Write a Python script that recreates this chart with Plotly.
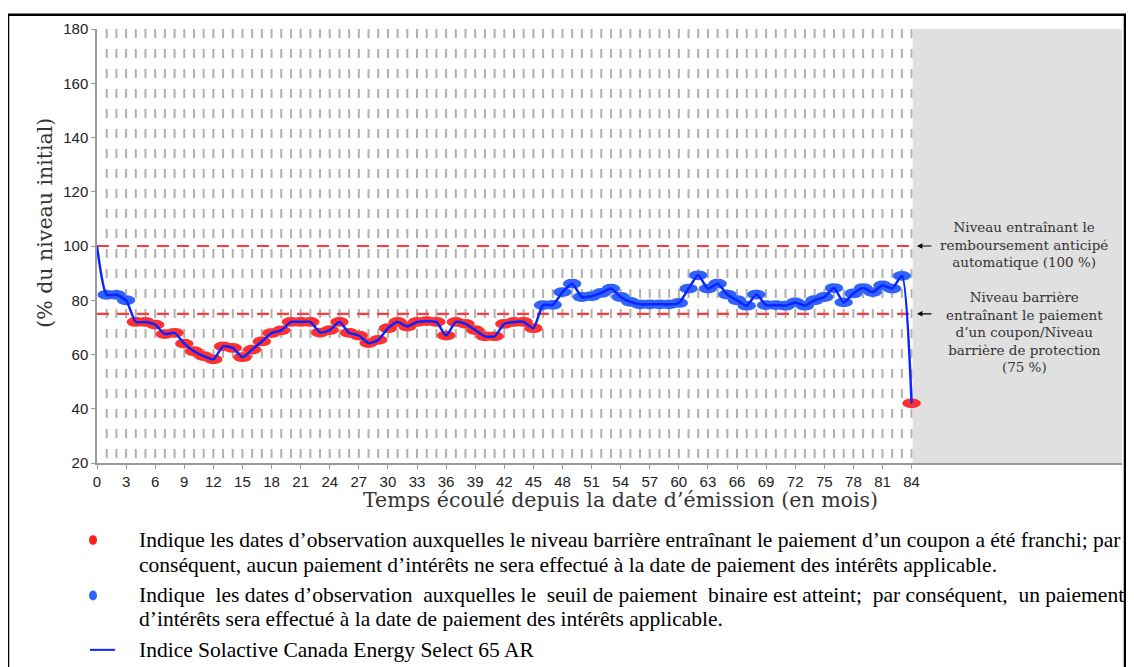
import plotly.graph_objects as go

# ---------------- data ----------------
months = list(range(85))
index_level = [100, 82, 82, 80, 72, 72, 71, 67.5, 68, 64, 61.2, 59.4, 58.2, 63, 62.4, 59,
               61.8, 64.8, 67.9, 68.9, 72, 72, 72, 68.1, 69, 72, 68, 67, 64.2, 65.4, 69.7,
               72, 70.3, 72, 72.3, 72, 67, 72, 71.3, 69, 66.7, 66.7, 71.3, 72, 72, 69.7,
               78.2, 78.3, 83, 86.1, 81.2, 81.5, 82.7, 84.3, 81.2, 79.4, 78.5, 78.5, 78.5,
               78.5, 79, 84.3, 89.2, 84.3, 86.1, 82.1, 80, 78, 82.1, 78.2, 78.2, 78, 79.2,
               78, 80, 81.2, 84.5, 79.2, 82.5, 84.5, 83, 85.5, 84.3, 89, 42]
x_ticks = list(range(0, 85, 3))
y_ticks = list(range(20, 181, 20))
autocall_level = 100
barrier_level = 75
maturity = 84
x_max = 105.7

RED = "#ff3030"
BLUE_M = "#2f62ff"
BLUE_L = "#0a24ff"

# page offset (body margin) and plot area in screen pixels
OFF = 8
L, R, T, B = 97, 1122, 24, 463
W, H = 1134 - OFF, 667 - OFF


def px(xp):
    return (xp - L) / (R - L)


def py(yp):
    return (B - yp) / (B - T)


fig = go.Figure()

fig.add_trace(go.Scatter(
    x=months, y=index_level, mode="lines",
    line=dict(color=BLUE_L, width=2.5, shape="spline", smoothing=0.6),
    showlegend=False, hoverinfo="x+y"))

shapes = []
# monthly dashed grid lines up to maturity
for m in months[1:]:
    shapes.append(dict(type="line", xref="x", yref="paper", x0=m, x1=m, y0=1, y1=0,
                       line=dict(color="#b0b0b0", width=2, dash="9px,11px"), layer="below"))
shapes.append(dict(type="rect", xref="x", yref="paper", x0=maturity + 0.12, x1=x_max,
                   y0=0, y1=1, fillcolor="#e0e0e0", line=dict(width=0), layer="below"))
for lvl in (autocall_level, barrier_level):
    shapes.append(dict(type="line", xref="x", yref="y", x0=0, x1=maturity, y0=lvl, y1=lvl,
                       line=dict(color="#ff3b3b", width=2.2, dash="12px,8px"), layer="below"))
hw, hh = 0.95, 1.8
for m, v in zip(months[1:], index_level[1:]):
    c = RED if v < barrier_level else BLUE_M
    shapes.append(dict(type="circle", xref="x", yref="y", x0=m - hw, x1=m + hw,
                       y0=v - hh, y1=v + hh, fillcolor=c, line=dict(width=0), layer="below"))

# outer frame
shapes.append(dict(type="rect", xref="paper", yref="paper", x0=px(8), x1=px(1125),
                   y0=py(720), y1=py(9.5), line=dict(color="black", width=2.5)))

# legend symbols
shapes.append(dict(type="circle", xref="paper", yref="paper", x0=px(89), x1=px(97),
                   y0=py(546), y1=py(536), fillcolor="#ff2020", line=dict(width=0)))
shapes.append(dict(type="circle", xref="paper", yref="paper", x0=px(89), x1=px(97),
                   y0=py(602), y1=py(592), fillcolor="#2f62ff", line=dict(width=0)))
shapes.append(dict(type="line", xref="paper", yref="paper", x0=px(90), x1=px(115),
                   y0=py(652), y1=py(652), line=dict(color="#0a24ff", width=2)))

annotations = []
serif = "DejaVu Serif"
annotations.append(dict(xref="paper", yref="paper", x=px(1024), y=py(242), showarrow=False,
                        text="Niveau entraînant le<br>remboursement anticipé<br>automatique (100 %)",
                        font=dict(family=serif, size=13.5, color="#333"), align="center",
                        xanchor="center", yanchor="middle"))
annotations.append(dict(xref="paper", yref="paper", x=px(1024), y=py(330), showarrow=False,
                        text="Niveau barrière<br>entraînant le paiement<br>d’un coupon/Niveau<br>barrière de protection<br>(75 %)",
                        font=dict(family=serif, size=13.5, color="#333"), align="center",
                        xanchor="center", yanchor="middle"))
for lvl in (autocall_level, barrier_level):
    annotations.append(dict(xref="paper", yref="y", x=px(917), y=lvl, ax=16, ay=0,
                            text="", showarrow=True, arrowhead=2, arrowsize=0.9,
                            arrowwidth=1.2, arrowcolor="black"))

annotations.append(dict(xref="paper", yref="paper", x=px(45), y=py(220), showarrow=False,
                        text="(% du niveau initial)", textangle=-90,
                        xanchor="center", yanchor="middle",
                        font=dict(family=serif, size=20.5, color="#333")))
annotations.append(dict(xref="paper", yref="paper", x=px(620), y=py(500), showarrow=False,
                        text="Temps écoulé depuis la date d’émission (en mois)",
                        xanchor="center", yanchor="middle",
                        font=dict(family=serif, size=20.5, color="#333")))

NB = "\u00a0"
leg_font = dict(family="Liberation Serif", size=21.5, color="black")
leg_lines = [
    (541, "Indique les dates d’observation auxquelles le niveau barrière entraînant le paiement d’un coupon a été franchi; par"),
    (566, "conséquent, aucun paiement d’intérêts ne sera effectué à la date de paiement des intérêts applicable."),
    (597, "Indique" + NB + " les dates d’observation" + NB + " auxquelles le" + NB + " seuil de paiement" + NB
          + " binaire est atteint;" + NB + " par conséquent," + NB + " un paiement"),
    (621, "d’intérêts sera effectué à la date de paiement des intérêts applicable."),
    (652, "Indice Solactive Canada Energy Select 65 AR"),
]
for yy, t in leg_lines:
    annotations.append(dict(xref="paper", yref="paper", x=px(137), y=py(yy), showarrow=False,
                            text=t, font=leg_font, xanchor="left", yanchor="middle"))

fig.update_layout(
    width=W, height=H,
    margin=dict(l=L - OFF, r=W - (R - OFF), t=T - OFF, b=H - (B - OFF)),
    plot_bgcolor="white", paper_bgcolor="white",
    shapes=shapes, annotations=annotations,
    xaxis=dict(range=[0, x_max], tickvals=x_ticks, ticktext=[str(v) for v in x_ticks],
               showgrid=False, showline=True, linecolor="#999", linewidth=1.5,
               ticks="outside", ticklen=4, tickcolor="#999", zeroline=False,
               tickfont=dict(family="Liberation Sans", size=15, color="#222")),
    yaxis=dict(range=[20, 180], tickvals=y_ticks, showgrid=False, zeroline=False,
               showline=True, linecolor="#999", linewidth=1.5,
               ticks="outside", ticklen=4, tickcolor="#999",
               tickfont=dict(family="Liberation Sans", size=15, color="#222")),
)

fig.write_html("out.html")
